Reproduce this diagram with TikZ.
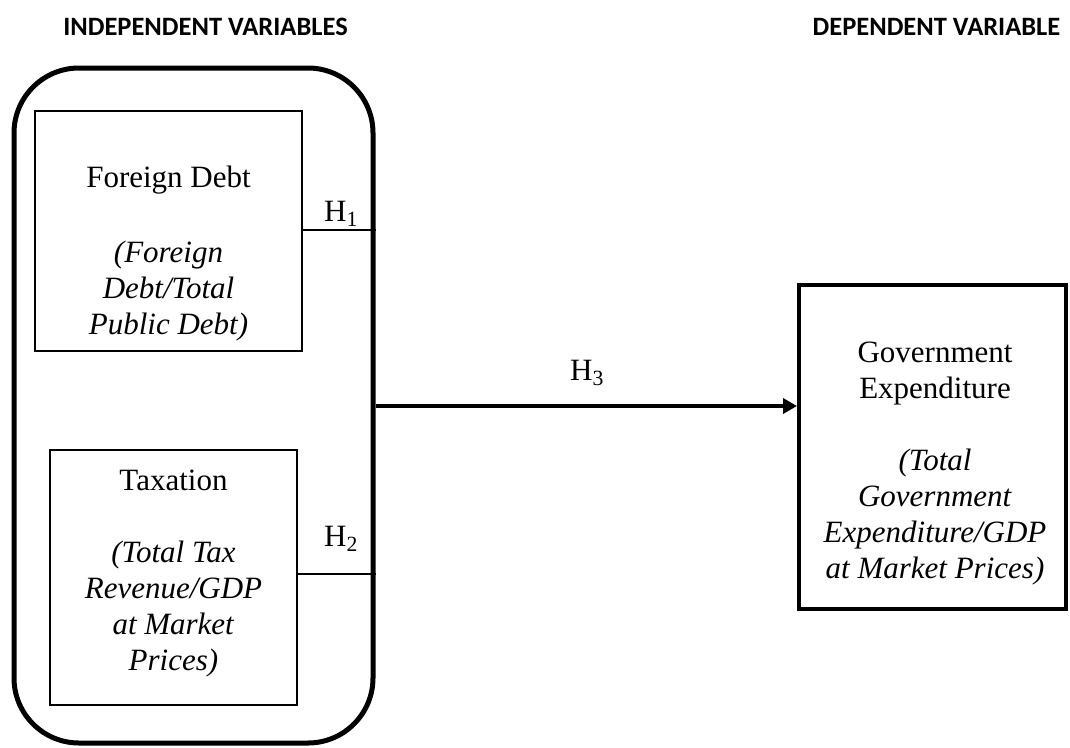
\documentclass[tikz,border=0pt]{standalone}
\usepackage{fontspec}
\setmainfont{Liberation Serif}
\newfontfamily\headfont{Carlito}
\usetikzlibrary{arrows.meta}

\begin{document}
\begin{tikzpicture}[x=1pt,y=-1pt,
    bodytext/.style={font=\fontsize{31}{36}\selectfont,inner sep=0pt},
    blocktext/.style={bodytext,align=center,anchor=north},
    hlabel/.style={bodytext,anchor=base},
    heading/.style={font=\headfont\bfseries\fontsize{26.5}{30}\selectfont,anchor=base,inner sep=0pt},
    varbox/.style={draw,line width=1.4pt,inner sep=0pt},
    hline/.style={line width=1.5pt}]
  \useasboundingbox (0,0) rectangle (1070,747);

  \node[heading] (indhead) at (205.5,35) {INDEPENDENT VARIABLES};
  \node[heading] (dephead) at (936.5,35) {DEPENDENT VARIABLE};

  \node[draw,line width=5pt,rounded corners=65pt,minimum width=359pt,minimum height=675pt] (indep) at (193.5,405.5) {};
  \node[varbox,minimum width=267pt,minimum height=240pt] (fd) at (168.5,231) {};
  \node[varbox,minimum width=247pt,minimum height=255pt] (tax) at (173.5,577.5) {};
  \node[draw,line width=4pt,minimum width=267pt,minimum height=324pt] (gov) at (932.5,447) {};

  \node[blocktext] (fdtext) at (168.5,161.8) {\strut Foreign Debt\\[39pt]
    \textit{(Foreign}\\ \textit{Debt/Total}\\ \textit{Public Debt)}};
  \node[blocktext] (taxtext) at (173.5,464.8) {\strut Taxation\\[36pt]
    \textit{(Total Tax}\\ \textit{Revenue/GDP}\\ \textit{at Market}\\ \textit{Prices)}};
  \node[blocktext] (govtext) at (935,336.8) {\strut Government\\ Expenditure\\[36pt]
    \textit{(Total}\\ \textit{Government}\\ \textit{Expenditure/GDP}\\ \textit{at Market Prices)}};

  \coordinate (h1) at (0,230);
  \coordinate (h2) at (0,574);
  \coordinate (h3) at (0,406);

  \draw[hline] (fd.east |- h1) -- (indep.east |- h1);
  \draw[hline] (tax.east |- h2) -- (indep.east |- h2);
  \draw[line width=3.5pt,-{Triangle[length=14pt,width=15pt]}] (indep.east |- h3) -- (gov.west |- h3);

  \node[hlabel] (h1lab) at (341,221) {H\textsubscript{1}};
  \node[hlabel] (h2lab) at (341,546) {H\textsubscript{2}};
  \node[hlabel] (h3lab) at (587,380) {H\textsubscript{3}};
\end{tikzpicture}
\end{document}
